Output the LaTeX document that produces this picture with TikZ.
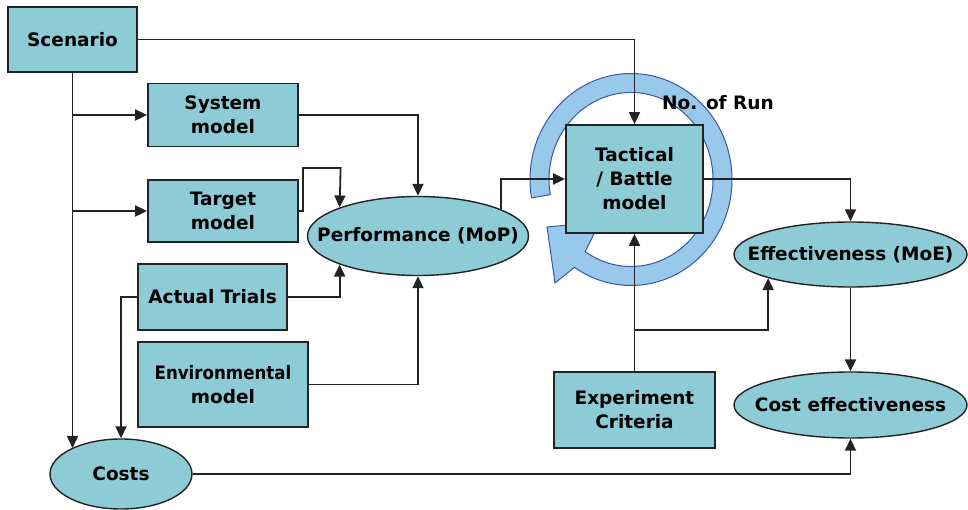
\documentclass[tikz,border=0pt]{standalone}
\usepackage{fontspec}
\setmainfont{DejaVu Sans}
\usetikzlibrary{shapes.geometric,arrows.meta,calc}
\definecolor{boxfill}{RGB}{141,203,214}
\definecolor{ringfill}{RGB}{152,200,234}
\definecolor{ringedge}{RGB}{58,88,165}
\definecolor{edge}{RGB}{35,35,35}
\begin{document}
\begin{tikzpicture}[x=1pt,y=-1pt,
  every node/.style={font=\fontsize{18.5}{24}\selectfont\bfseries, text=black},
  blk/.style={rectangle, draw=edge, line width=1.8pt, fill=boxfill, inner sep=0pt, align=center},
  ell/.style={ellipse, draw=edge, line width=1.4pt, fill=boxfill, inner sep=0pt},
  arr/.style={draw=edge, line width=1.8pt, -{Triangle[length=12pt,width=11pt]}},
  ring/.style={fill=ringfill, draw=ringedge, line width=1pt}]
\useasboundingbox (0,0) rectangle (968,510);

% circular "No. of Run" arrow
\coordinate (rc) at (631,179.5);
\path[ring] ($(rc)+(170:101 and 106)$)
  arc[start angle=170, end angle=484, x radius=101, y radius=106]
  -- (555,283) -- (547,227) -- (600,222) -- ($(rc)+(124:82 and 87)$)
  arc[start angle=484, end angle=170, x radius=82, y radius=87] -- cycle;

% boxes
\node[blk, minimum width=129pt, minimum height=65pt] (scen) at (72.5,39.5) {Scenario};
\node[blk, minimum width=150pt, minimum height=63pt] (sys) at (223,115) {System\\model};
\node[blk, minimum width=150pt, minimum height=62pt] (tgt) at (223,211) {Target\\model};
\node[blk, minimum width=149pt, minimum height=66pt] (act) at (212.5,297) {Actual Trials};
\node[blk, minimum width=170pt, minimum height=85pt] (env) at (223,384.5) {\scalebox{0.9}[1]{Environmental}\\model};
\node[blk, minimum width=137pt, minimum height=108pt] (tac) at (634.5,179) {Tactical\\/ Battle\\model};
\node[blk, minimum width=161pt, minimum height=76pt] (exp) at (634.5,410) {Experiment\\Criteria};

% ellipses
\node[ell, minimum width=221pt, minimum height=79pt, label=center:{Performance (MoP)}] (perf) at (418,236) {};
\node[ell, minimum width=233pt, minimum height=65pt, label=center:{Effectiveness (MoE)}] (moe) at (850.5,254.5) {};
\node[ell, minimum width=233pt, minimum height=66pt, label=center:{Cost effectiveness}] (ce) at (850.5,405) {};
\node[ell, minimum width=142pt, minimum height=70pt, label=center:{Costs}] (costs) at (121,474) {};

\node (run) at (718,103) {No. of Run};

% connectors
\draw[arr] (scen.east) -| (tac.north);
\draw[arr] (scen.south) -- (scen.south |- costs.152);
\draw[arr] (scen.south |- sys.west) -- (sys.west);
\draw[arr] (scen.south |- tgt.west) -- (tgt.west);
\draw[arr] (sys.east) -| (perf.north);
\draw[arr] (tgt.east) -- ++(4,0) |- (340.6,168) -- (perf.160);
\draw[arr] (act.east) -| (perf.200);
\draw[arr] (env.east) -| (perf.south);
\draw[arr] (act.west) -| (costs.north);
\draw[arr] (perf.18) |- (tac.west);
\draw[arr] (tac.east) -| (moe.north);
\draw[arr] (moe.south) -- (ce.north);
\draw[arr] (costs.east) -| (ce.south);
\draw[arr] (exp.north) -- (tac.south);
\coordinate (br) at (634.5,330);
\draw[arr] (br) -| (moe.196);
\end{tikzpicture}
\end{document}
